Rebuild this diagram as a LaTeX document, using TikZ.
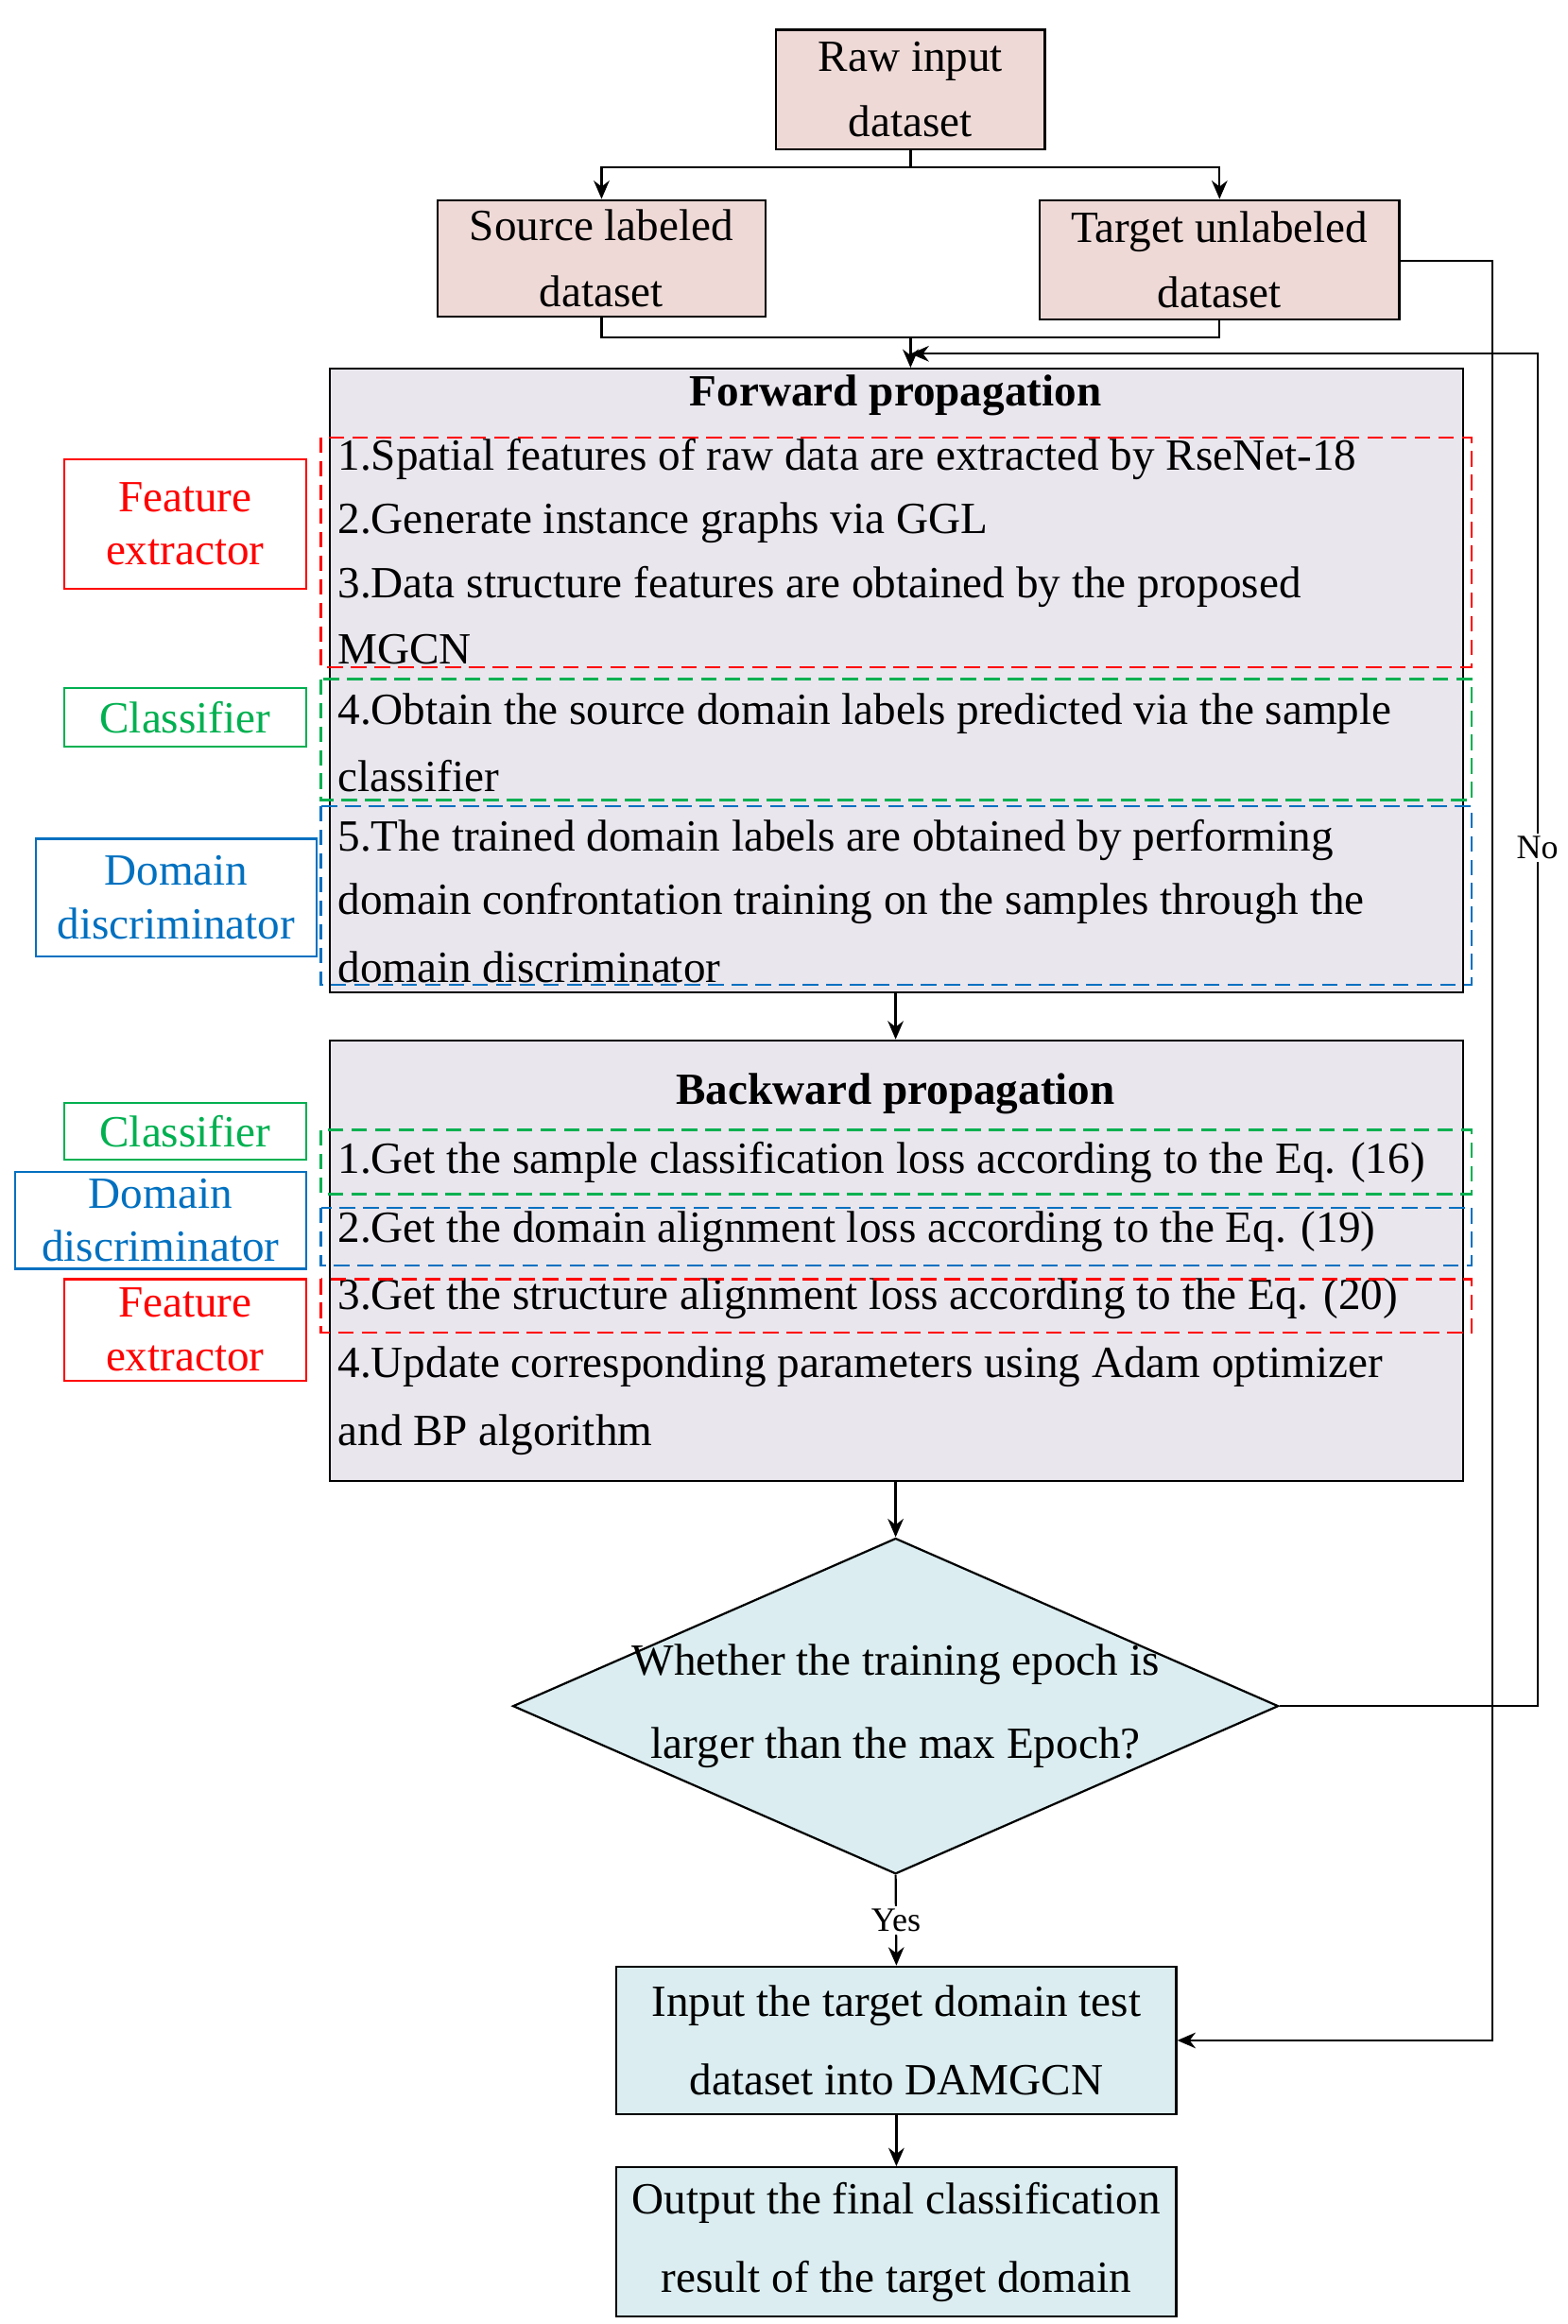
\documentclass[tikz,border=0pt]{standalone}
\usepackage{fontspec}
\setmainfont{Liberation Serif}
\usepackage{tikz}
\usetikzlibrary{positioning, calc, shapes.geometric, arrows.meta}

\definecolor{pinkbox}{HTML}{EED9D6}
\definecolor{lavbox}{HTML}{EAE6EE}
\definecolor{cyanbox}{HTML}{DBEDF0}
\definecolor{redl}{HTML}{FF0000}
\definecolor{greenl}{HTML}{00B050}
\definecolor{bluel}{HTML}{0070C0}

\tikzset{
  every node/.style={font=\fontsize{17}{25}\selectfont},
  box/.style={draw, thick, align=center, inner sep=0pt},
  line/.style={draw, thick},
  arr/.style={thick, -{Stealth[length=7pt,width=6pt]}},
  tag/.style={draw, thick, align=center, inner sep=0pt, font=\fontsize{17}{20.5}\selectfont},
  grp/.style={thick, dash pattern=on 6pt off 3pt},
  txt/.style={anchor=west, inner sep=0pt}
}

\begin{document}
\begin{tikzpicture}[x=0.02cm, y=-0.02cm]
        \useasboundingbox (0,0) rectangle (1050,1557);

        % top boxes
        \node[box, fill=pinkbox, minimum width=3.6cm, minimum height=1.6cm] (raw) at (610,60) {Raw input\\dataset};
        \node[box, fill=pinkbox, minimum width=4.4cm, minimum height=1.56cm] (src) at (403,173) {Source labeled\\dataset};
        \node[box, fill=pinkbox, minimum width=4.82cm, minimum height=1.6cm] (tgt) at (817,174) {Target unlabeled\\dataset};

        % forward and backward blocks
        \node[box, fill=lavbox, minimum width=15.18cm, minimum height=8.36cm] (fwd) at (600.5,456) {};
        \node[box, fill=lavbox, minimum width=15.18cm, minimum height=5.9cm] (bwd) at (600.5,844.5) {};

        % decision and output
        \node[box, diamond, fill=cyanbox, minimum width=10.26cm, minimum height=4.5cm, aspect=2.28] (dec) at (600,1143) {};
        \node[align=center, font=\fontsize{17}{32}\selectfont] at (600,1143) {Whether the training epoch is\\larger than the max Epoch?};
        \node[box, fill=cyanbox, minimum width=7.5cm, minimum height=1.98cm, font=\fontsize{17}{30}\selectfont] (inp) at (600.5,1367) {Input the target domain test\\dataset into DAMGCN};
        \node[box, fill=cyanbox, minimum width=7.5cm, minimum height=2cm, font=\fontsize{17}{30}\selectfont] (out) at (600.5,1502) {Output the final classification\\result of the target domain};

        % forward text
        \node[font=\fontsize{17}{25}\selectfont\bfseries] at (600,265) {Forward propagation};
        \node[txt] at (226,308) {1.Spatial features of raw data are extracted by RseNet-18};
        \node[txt] at (226,350) {2.Generate instance graphs via GGL};
        \node[txt] at (226,393) {3.Data structure features are obtained by the proposed};
        \node[txt] at (226,435) {MGCN};
        \node[txt] at (226,478) {4.Obtain the source domain labels predicted via the sample};
        \node[txt] at (226,520) {classifier};
        \node[txt] at (226,563) {5.The trained domain labels are obtained by performing};
        \node[txt] at (226,605) {domain confrontation training on the samples through the};
        \node[txt] at (226,648) {domain discriminator};

        % backward text
        \node[font=\fontsize{17}{25}\selectfont\bfseries] at (600,733) {Backward propagation};
        \node[txt] at (226,779) {1.Get the sample classification loss according to the Eq. (16)};
        \node[txt] at (226,825) {2.Get the domain alignment loss according to the Eq. (19)};
        \node[txt] at (226,870) {3.Get the structure alignment loss according to the Eq. (20)};
        \node[txt] at (226,916) {4.Update corresponding parameters using Adam optimizer};
        \node[txt] at (226,961) {and BP algorithm};

        % dashed groups
        \draw[grp, redl] (215,293) rectangle (986,447);
        \draw[grp, greenl] (215,455) rectangle (986,536);
        \draw[grp, bluel] (215,540) rectangle (986,660);
        \draw[grp, greenl] (215,757) rectangle (986,800);
        \draw[grp, bluel] (215,809) rectangle (986,848);
        \draw[grp, redl] (215,857) rectangle (986,893);

        % side tags
        \node[tag, redl, minimum width=3.24cm, minimum height=1.74cm] (fe1) at (124,351) {Feature\\extractor};
        \node[tag, greenl, minimum width=3.24cm, minimum height=0.78cm] (cl1) at (124,480.5) {Classifier};
        \node[tag, bluel, minimum width=3.76cm, minimum height=1.58cm] (dd1) at (118,601.5) {Domain\\discriminator};
        \node[tag, greenl, minimum width=3.24cm, minimum height=0.76cm] (cl2) at (124,758) {Classifier};
        \node[tag, bluel, minimum width=3.9cm, minimum height=1.3cm] (dd2) at (107.5,817.5) {Domain\\discriminator};
        \node[tag, redl, minimum width=3.24cm, minimum height=1.36cm] (fe2) at (124,891) {Feature\\extractor};

        % connectors
        \coordinate (split) at (610,112);
        \draw[line] (raw.south) -- (split);
        \draw[arr] (split) -| (src.north);
        \draw[arr] (split) -| (tgt.north);
        \coordinate (merge) at (610,226);
        \draw[line] (src.south) |- (merge);
        \draw[line] (tgt.south) |- (merge);
        \draw[arr] (merge) -- (fwd.north -| merge);
        \draw[arr] (fwd.south -| 600,0) -- (bwd.north -| 600,0);
        \draw[arr] (bwd.south -| 600,0) -- (dec.north);
        \draw[arr] (dec.south) -- node[fill=white, inner sep=1pt, font=\fontsize{13}{15}\selectfont] {Yes} (inp.north);
        \draw[arr] (inp.south) -- (out.north);

        % loop back
        \coordinate (back) at (610,237);
        \draw[arr] (dec.east) -- (1030,1143) -- (1030,237) -- (back);
        \node[fill=white, inner sep=1pt, font=\fontsize{13}{15}\selectfont] at (1030,568) {No};
        \draw[arr] (tgt.east |- 0,175) -- (1000,175) -- (1000,1367) -- (inp.east);
\end{tikzpicture}
\end{document}
